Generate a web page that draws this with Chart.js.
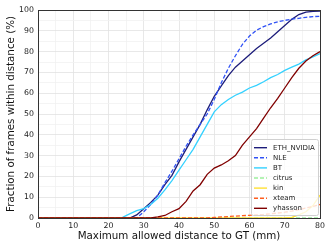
<!DOCTYPE html>
<html>
<head>
<meta charset="utf-8">
<script src="https://cdn.jsdelivr.net/npm/chart.js@4.4.0/dist/chart.umd.min.js"></script>
<style>
html,body{margin:0;padding:0;background:#fff;}
#wrap{position:relative;width:332px;height:249px;}
</style>
</head>
<body>
<div id="wrap"><canvas id="c" width="332" height="249"></canvas></div>
<script>
// distance thresholds (mm)
const xs = [0,2,4,6,8,10,12,14,16,18,20,22,24,26,28,30,32,34,36,38,40,42,44,46,48,50,52,54,56,58,60,62,64,66,68,70,72,74,76,78,80];
const seriesNames = ['ETH_NVIDIA','NLE','BT','citrus','kin','xteam','yhasson'];
const ethNvidia = [0,0,0,0,0,0,0,0,0,0,0,0,0,0,1.5,4.5,7.5,11,16,20.5,27,33,39,45,52,58.5,63.5,68.5,72.5,75.5,78.5,81.5,84,86.5,89.5,92.5,95.5,97.8,99,99.3,99.5];
const nle = [0,0,0,0,0,0,0,0,0,0,0,0,0,0,0,3,6.5,11,17,22.5,28.5,34.5,40,45,50,57,65,72,78,83.5,87.5,90.3,92,93.3,94.3,95,95.6,96,96.5,96.8,97];
const bt = [0,0,0,0,0,0,0,0,0,0,0,0,0.3,2,3.5,4.5,6.5,9.5,13.5,18,23,28,33,39,45,51,54.5,57,59,60.5,62.5,63.8,65.5,67.5,69,71,72.5,74,76,77.5,79];
const citrus = [0,0,0,0,0,0,0,0,0,0,0,0,0,0,0,0,0,0,0,0,0,0,0,0,0,0,0,0,0,0,0,0,0,0,0,0,0,0,0,0,0];
const kin = [0,0,0,0,0,0,0,0,0,0,0,0,0,0,0,0,0,0,0,0,0,0,0,0,0,0,0,0,0,0,0,0,0,0,0,0,0.3,1.5,3,6,11];
const xteam = [0,0,0,0,0,0,0,0,0,0,0,0,0,0,0,0,0,0,0,0,0,0,0,0,0,0.3,0.5,0.7,0.9,1.1,1.3,1.5,1.7,2,2.4,2.8,3.3,4,4.8,5.5,6.5];
const yhasson = [0,0,0,0,0,0,0,0,0,0,0,0,0,0,0,0,0,0.5,1.2,3,4.5,8,13,16,21,24,25.5,27.5,30,35,39,43,48,53,57.5,62.5,67.5,72,75.5,78,80];
const xTicks = [0,10,20,30,40,50,60,70,80];
const yTicks = [0,10,20,30,40,50,60,70,80,90,100];

const seriesValues = [ethNvidia, nle, bt, citrus, kin, xteam, yhasson];
const colors = ['#1c1c7a','#3052f5','#33d1ff','#9cf09c','#ffe033','#ff5e1f','#800000'];
const dashes = [[],[4,2],[],[4,2],[],[4,2],[]];

const datasets = seriesNames.map((n,i)=>({
  label:n,
  data: xs.map((x,j)=>({x:x,y:seriesValues[i][j]})),
  borderColor: colors[i],
  backgroundColor: colors[i],
  borderWidth: 1.3,
  borderDash: dashes[i],
  pointRadius: 0,
  tension: 0,
  fill: false,
  order: seriesNames.length - i,
  clip: 2
}));

const FONT = 'DejaVu Sans';

const framePlugin = {
  id:'frame',
  afterDatasetsDraw(chart){
    const {ctx, chartArea:a} = chart;
    ctx.save();
    ctx.strokeStyle = '#333';
    ctx.lineWidth = 1;
    ctx.strokeRect(Math.round(a.left)+0.5, Math.round(a.top)+0.5, Math.round(a.right-a.left), Math.round(a.bottom-a.top));
    // legend
    const bx = 251.5, by = 139.5, bw = 67, bh = 76;
    ctx.beginPath();
    if (ctx.roundRect) ctx.roundRect(bx, by, bw, bh, 2); else ctx.rect(bx,by,bw,bh);
    ctx.fillStyle = 'rgba(255,255,255,0.8)';
    ctx.fill();
    ctx.strokeStyle = '#d0d0d0';
    ctx.lineWidth = 1;
    ctx.stroke();
    ctx.font = '7px "' + FONT + '"';
    ctx.textBaseline = 'middle';
    ctx.textAlign = 'left';
    seriesNames.forEach((n,i)=>{
      const y = 147.7 + i*10.1;
      ctx.beginPath();
      ctx.setLineDash(dashes[i]);
      ctx.strokeStyle = colors[i];
      ctx.lineWidth = 1.4;
      ctx.moveTo(254, y);
      ctx.lineTo(267, y);
      ctx.stroke();
      ctx.setLineDash([]);
      ctx.fillStyle = '#222';
      ctx.fillText(n, 273, y);
    });
    ctx.restore();
  }
};

const gridColor = (ctx)=> (ctx.tick && ctx.tick.value % 10 === 0) ? '#e2e2e2' : '#f1f1f1';

new Chart(document.getElementById('c'), {
  type:'line',
  data:{datasets},
  options:{
    responsive:false,
    animation:false,
    layout:{padding:{top:10,right:12,left:0,bottom:0}},
    plugins:{legend:{display:false}, tooltip:{enabled:false}},
    scales:{
      x:{
        type:'linear', min:0, max:80,
        afterFit(s){ s.height = 31; },
        afterBuildTicks(s){ s.ticks = []; for(let v=0; v<=80; v+=5) s.ticks.push({value:v}); },
        ticks:{ autoSkip:false, maxRotation:0, padding:3, color:'#222', font:{family:FONT,size:7.8},
          callback:(v)=> xTicks.includes(v) ? String(v) : '' },
        grid:{ color:gridColor, lineWidth:0.8, drawTicks:false },
        border:{display:false},
        title:{ display:true, text:'Maximum allowed distance to GT (mm)', color:'#111',
          font:{family:FONT,size:10.3}, padding:{top:0,bottom:6} }
      },
      y:{
        type:'linear', min:0, max:100,
        afterFit(s){ s.width = 38; },
        afterBuildTicks(s){ s.ticks = []; for(let v=0; v<=100; v+=5) s.ticks.push({value:v}); },
        ticks:{ autoSkip:false, padding:4, color:'#222', font:{family:FONT,size:7.8},
          callback:(v)=> yTicks.includes(v) ? String(v) : '' },
        grid:{ color:gridColor, lineWidth:0.8, drawTicks:false },
        border:{display:false},
        title:{ display:true, text:'Fraction of frames within distance (%)', color:'#111',
          font:{family:FONT,size:10.3}, padding:{top:5.5,bottom:0} }
      }
    }
  },
  plugins:[framePlugin]
});
</script>
</body>
</html>
